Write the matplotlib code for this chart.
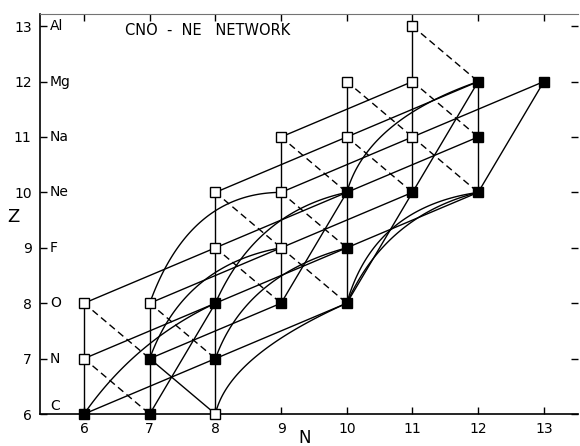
import numpy as np
import matplotlib.pyplot as plt

# nuclei as (N, Z); stable ones are drawn filled, unstable ones open
stable_n = [6, 7, 7, 8, 8, 9, 10, 10, 10, 11, 12, 12, 12, 13]
stable_z = [6, 6, 7, 7, 8, 8, 8, 9, 10, 10, 10, 11, 12, 12]
unstable_n = [8, 6, 6, 7, 8, 9, 8, 9, 9, 10, 11, 10, 11, 11]
unstable_z = [6, 7, 8, 8, 9, 9, 10, 10, 11, 11, 11, 12, 12, 13]

z_ticks = [6, 7, 8, 9, 10, 11, 12, 13]
elements = ['C', 'N', 'O', 'F', 'Ne', 'Na', 'Mg', 'Al']
n_ticks = [6, 7, 8, 9, 10, 11, 12, 13]

# (p,gamma): vertical runs at fixed N, (N, Z from, Z to)
pg_runs = [(6, 6, 8), (7, 6, 8), (8, 6, 10), (9, 8, 11),
           (10, 8, 12), (11, 10, 13), (12, 10, 12)]
# beta+ decays (N, Z) -> (N+1, Z-1), dashed
beta = [(6, 7), (6, 8), (7, 8), (8, 9), (8, 10), (9, 9), (9, 10),
        (9, 11), (10, 11), (10, 12), (11, 11), (11, 12), (11, 13)]
# (alpha,p) chains, straight lines through several nuclei
ap_chains = [[(6, 6), (8, 7), (10, 8)],
             [(6, 7), (8, 8), (10, 9), (12, 10)],
             [(6, 8), (8, 9), (10, 10), (12, 11)],
             [(7, 7), (9, 8)],
             [(7, 8), (9, 9), (11, 10)],
             [(8, 10), (10, 11), (12, 12)],
             [(9, 10), (11, 11), (13, 12)],
             [(9, 11), (11, 12)]]
# other straight links (alpha,n) and (n,p)
other = [((7, 6), (8, 8)), ((9, 8), (10, 10)), ((10, 8), (11, 10)),
         ((11, 10), (12, 12)), ((12, 10), (13, 12)), ((7, 7), (8, 6))]
# (alpha,gamma) arcs: start, end, bend at start / end (deg)
arcs = [((6, 6), (8, 8), 15, 15),
        ((8, 6), (10, 8), 37, 16),
        ((7, 7), (9, 9), 30, 30),
        ((8, 7), (10, 9), 30, 25),
        ((7, 8), (9, 10), 30, 40),
        ((8, 8), (10, 10), 26, 28),
        ((10, 8), (12, 10), 26, 26),
        ((10, 8), (12, 10), 34, 32),
        ((10, 10), (12, 12), 34, 21)]

fig = plt.figure(figsize=(5.8, 4.46), dpi=100)
ax = fig.add_axes([0.069, 0.0717, 0.9276, 0.897])
ax.set_xlim(5.33, 13.52)
ax.set_ylim(6, 13.22)

kw = dict(color='black', lw=1.0, zorder=2)
for n, z0, z1 in pg_runs:
    ax.plot([n, n], [z0, z1], **kw)
for n, z in beta:
    ax.plot([n, n + 1], [z, z - 1], color='black', lw=1.0,
            ls=(0, (5, 3)), zorder=2)
for ch in ap_chains:
    ax.plot([p[0] for p in ch], [p[1] for p in ch], **kw)
for a, b in other:
    ax.plot([a[0], b[0]], [a[1], b[1]], **kw)

# arcs as quadratic bezier in display space
T = ax.transData
for p0, p1, f0, f1 in arcs:
    a = T.transform(p0)
    b = T.transform(p1)
    d = b - a
    L = np.hypot(*d)
    ang = np.arctan2(d[1], d[0])
    r0, r1 = np.radians(f0), np.radians(f1)
    d0 = L * np.sin(r1) / np.sin(r0 + r1)
    c = a + d0 * np.array([np.cos(ang + r0), np.sin(ang + r0)])
    t = np.linspace(0, 1, 80)[:, None]
    pts = (1 - t)**2 * a + 2 * t * (1 - t) * c + t**2 * b
    xy = T.inverted().transform(pts)
    ax.plot(xy[:, 0], xy[:, 1], **kw)

ax.plot(stable_n, stable_z, 's', ms=7.5, mfc='black', mec='black',
        mew=1.0, zorder=4, clip_on=False)
ax.plot(unstable_n, unstable_z, 's', ms=7.5, mfc='white', mec='black',
        mew=1.0, zorder=4, clip_on=False)

# axes styling
for s in ['left', 'bottom']:
    ax.spines[s].set_linewidth(1.2)
ax.spines['top'].set_linewidth(0.8)
ax.spines['top'].set_color('0.45')
ax.spines['right'].set_visible(False)
ax.set_xticks(n_ticks)
ax.set_yticks(z_ticks)
ax.tick_params(direction='in', length=5, width=1.0, labelsize=10,
               top=True, right=True, pad=6)

for z, el in zip(z_ticks, elements):
    zz = z + 0.14 if z == 6 else z
    ax.text(5.48, zz, el, ha='left', va='center', fontsize=10)

ax.text(6.62, 12.93, 'CNO  -  NE   NETWORK', ha='left', va='center',
        fontsize=10.5)
ax.text(9.36, 5.56, 'N', ha='center', va='center', fontsize=12, clip_on=False)
ax.text(4.92, 9.55, 'Z', ha='center', va='center', fontsize=13, clip_on=False)

fig.savefig('out.png', dpi=100)
